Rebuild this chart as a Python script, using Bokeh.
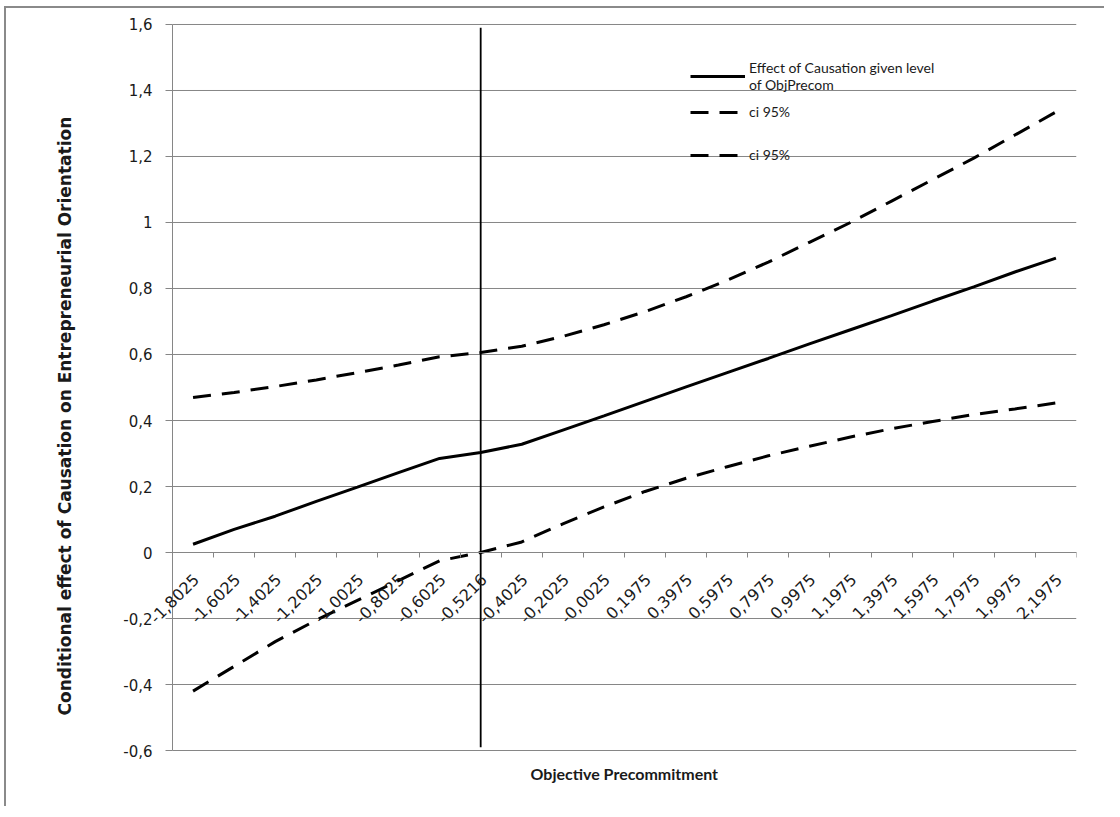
from bokeh.plotting import figure
from bokeh.models import (Range1d, LinearAxis, FixedTicker, Legend, LegendItem,
                          ColumnDataSource, Label, Title)
from bokeh.embed import file_html
from bokeh.resources import INLINE
import math

categories = ["-1,8025", "-1,6025", "-1,4025", "-1,2025", "-1,0025", "-0,8025", "-0,6025",
              "-0,5216", "-0,4025", "-0,2025", "-0,0025", "0,1975", "0,3975", "0,5975",
              "0,7975", "0,9975", "1,1975", "1,3975", "1,5975", "1,7975", "1,9975", "2,1975"]
effect = [0.025, 0.07, 0.11, 0.155, 0.198, 0.242, 0.285, 0.303, 0.328, 0.371, 0.414,
          0.458, 0.502, 0.545, 0.588, 0.632, 0.675, 0.718, 0.762, 0.805, 0.85, 0.892]
ci_upper = [0.47, 0.485, 0.503, 0.523, 0.545, 0.568, 0.593, 0.606, 0.625, 0.655, 0.69,
            0.73, 0.775, 0.825, 0.88, 0.94, 1.0, 1.065, 1.13, 1.195, 1.265, 1.335]
ci_lower = [-0.42, -0.345, -0.27, -0.205, -0.145, -0.085, -0.025, 0.0, 0.032, 0.087, 0.138,
            0.185, 0.225, 0.26, 0.293, 0.322, 0.35, 0.375, 0.397, 0.418, 0.435, 0.453]
vline_cat = "-0,5216"
vline_lo, vline_hi = -0.59, 1.59
y_ticks = [-0.6, -0.4, -0.2, 0, 0.2, 0.4, 0.6, 0.8, 1, 1.2, 1.4, 1.6]
y_tick_labels = ["-0,6", "-0,4", "-0,2", "0", "0,2", "0,4", "0,6", "0,8", "1", "1,2", "1,4", "1,6"]
x_axis_cross = 0

TICKFONT = "DejaVu Sans"
FONT = "Lato"
GRID = "#868686"
TXT = "#1a1a1a"

n = len(categories)
xpos = [i + 0.5 for i in range(n)]          # category slot centres (Excel "between tick marks")
vline_x = categories.index(vline_cat) + 0.5
# the frame reaches a little beyond the value axis, so the tick labels are not clipped
left_room = 1.2655
y_pad = 0.0303

src = ColumnDataSource(dict(x=xpos, effect=effect, up=ci_upper, lo=ci_lower))
gsrc = ColumnDataSource(dict(x0=[0] * len(y_ticks), x1=[n] * len(y_ticks), y=y_ticks))

p = figure(width=1100, height=800, x_range=Range1d(-left_room, n),
           y_range=Range1d(y_ticks[0] - y_pad, y_ticks[-1] + y_pad), output_backend="svg",
           toolbar_location=None, x_axis_location=None, y_axis_location=None,
           min_border_left=114, min_border_right=30, min_border_top=6, min_border_bottom=48)
p.styles = {"border-left": "2px solid #8a8a8a", "border-top": "2px solid #8a8a8a",
            "margin-left": "4px", "margin-top": "6px"}
p.outline_line_color = None
p.xgrid.visible = False
p.ygrid.visible = False

# horizontal gridlines over the plot area only
p.segment(x0="x0", y0="y", x1="x1", y1="y", source=gsrc, line_color=GRID, line_width=1)

# value axis at the first category boundary
vax = LinearAxis(ticker=FixedTicker(ticks=y_ticks), fixed_location=0,
                 bounds=(y_ticks[0], y_ticks[-1]),
                 major_label_overrides=dict(zip(y_ticks, y_tick_labels)),
                 axis_line_color=GRID, major_tick_line_color=GRID,
                 major_tick_out=7, major_tick_in=0, minor_tick_line_color=None,
                 major_label_standoff=13, major_label_text_font=TICKFONT,
                 major_label_text_font_size="15px", major_label_text_color=TXT)
p.add_layout(vax, "left")

# horizontal axis line crossing at y = 0, with tick marks between categories
bax = LinearAxis(ticker=FixedTicker(ticks=list(range(n + 1))), fixed_location=x_axis_cross,
                 bounds=(0, n), axis_line_color=GRID, major_tick_line_color=GRID,
                 major_tick_out=5, major_tick_in=0, minor_tick_line_color=None,
                 major_label_text_font_size="0px")
p.add_layout(bax, "below")

# axis titles
p.add_layout(Title(text="Objective Precommitment", align="left", offset=410,
                   vertical_align="top", standoff=7, text_font=FONT,
                   text_font_style="bold", text_font_size="16px", text_color=TXT), "below")
p.add_layout(Title(text="Conditional  effect of Causation on Entrepreneurial Orientation",
                   align="left", offset=45, vertical_align="middle", standoff=90,
                   text_font=TICKFONT, text_font_style="bold", text_font_size="17px",
                   text_color=TXT), "left")

r_eff = p.line("x", "effect", source=src, line_color="black", line_width=3)
r_up = p.line("x", "up", source=src, line_color="black", line_width=3, line_dash="18 11")
r_lo = p.line("x", "lo", source=src, line_color="black", line_width=3, line_dash="18 11")
p.segment(x0=[vline_x], y0=[vline_lo], x1=[vline_x], y1=[vline_hi],
          line_color="black", line_width=1.8)

# rotated category labels below the crossing axis
for xc, cat in zip(xpos, categories):
    p.add_layout(Label(x=xc, y=x_axis_cross, text=cat, angle=math.pi / 4,
                       text_align="right", text_baseline="middle", x_offset=3, y_offset=-24,
                       text_font=TICKFONT, text_font_size="16px", text_color=TXT))

leg_kw = dict(background_fill_alpha=0, border_line_color=None, padding=0, margin=0,
              glyph_width=55, glyph_height=16, label_height=16, label_standoff=4,
              label_text_font=FONT, label_text_font_size="14px", label_text_color=TXT,
              spacing=10)
legA = Legend(items=[LegendItem(label="Effect of Causation given level\nof ObjPrecom", renderers=[r_eff]),
                     LegendItem(label="ci 95%", renderers=[r_up])],
              location=(570, 640), **leg_kw)
legB = Legend(items=[LegendItem(label="ci 95%", renderers=[r_lo])],
              location=(570, 597), **leg_kw)
p.add_layout(legA)
p.add_layout(legB)

open("out.html", "w").write(file_html(p, INLINE))
